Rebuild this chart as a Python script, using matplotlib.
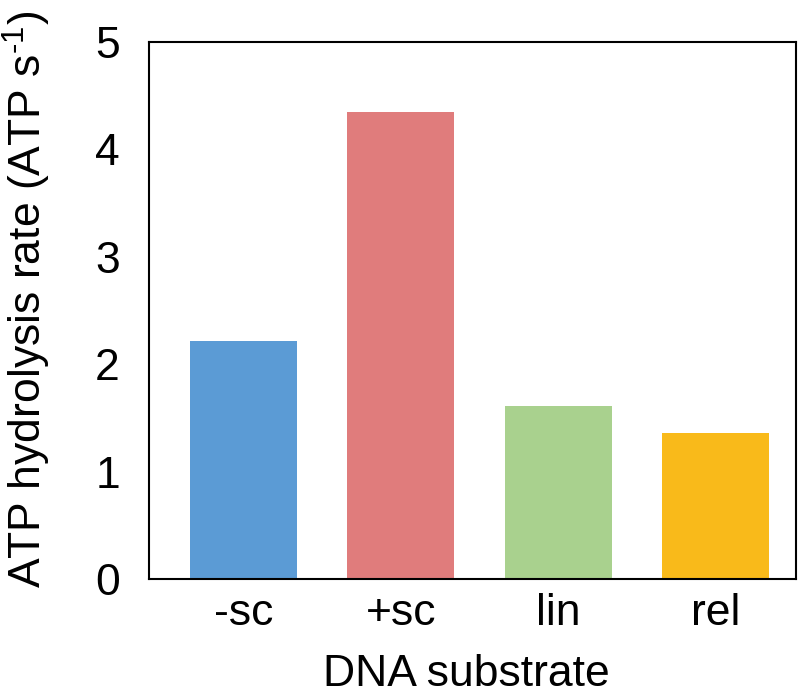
import matplotlib
matplotlib.use("Agg")
from matplotlib import pyplot as plt

categories = ["-sc", "+sc", "lin", "rel"]
rates = [2.22, 4.35, 1.61, 1.36]
colors = ["#5B9BD5", "#E07C7C", "#A9D18E", "#F9BA1A"]
yticks = [0, 1, 2, 3, 4, 5]

plt.rcParams["font.family"] = ["Liberation Sans", "DejaVu Sans"]
plt.rcParams["mathtext.fontset"] = "custom"
plt.rcParams["mathtext.rm"] = "Liberation Sans"

fig = plt.figure(figsize=(7.98, 6.97), dpi=100)
ax = fig.add_axes([149 / 798, 1 - 579 / 697, 647 / 798, 537 / 697])

x = range(len(categories))
ax.bar(x, rates, width=0.68, color=colors)
ax.set_xlim(-0.6, 3.51)
ax.set_ylim(0, 5)
ax.set_xticks(list(x))
ax.set_xticklabels(categories)
ax.set_yticks(yticks)
ax.tick_params(length=0, labelsize=32)
ax.tick_params(axis="y", pad=21)
ax.tick_params(axis="x", pad=10)
for s in ax.spines.values():
    s.set_linewidth(1.5)
ax.set_xlabel("DNA substrate", fontsize=32)
ax.set_ylabel(r"ATP hydrolysis rate (ATP s$^{\text{-1}}$)", fontsize=32)
ax.xaxis.set_label_coords(0.49, -0.14)
ax.yaxis.set_label_coords(-0.148, 0.52)

fig.savefig("out.png", dpi=100)
